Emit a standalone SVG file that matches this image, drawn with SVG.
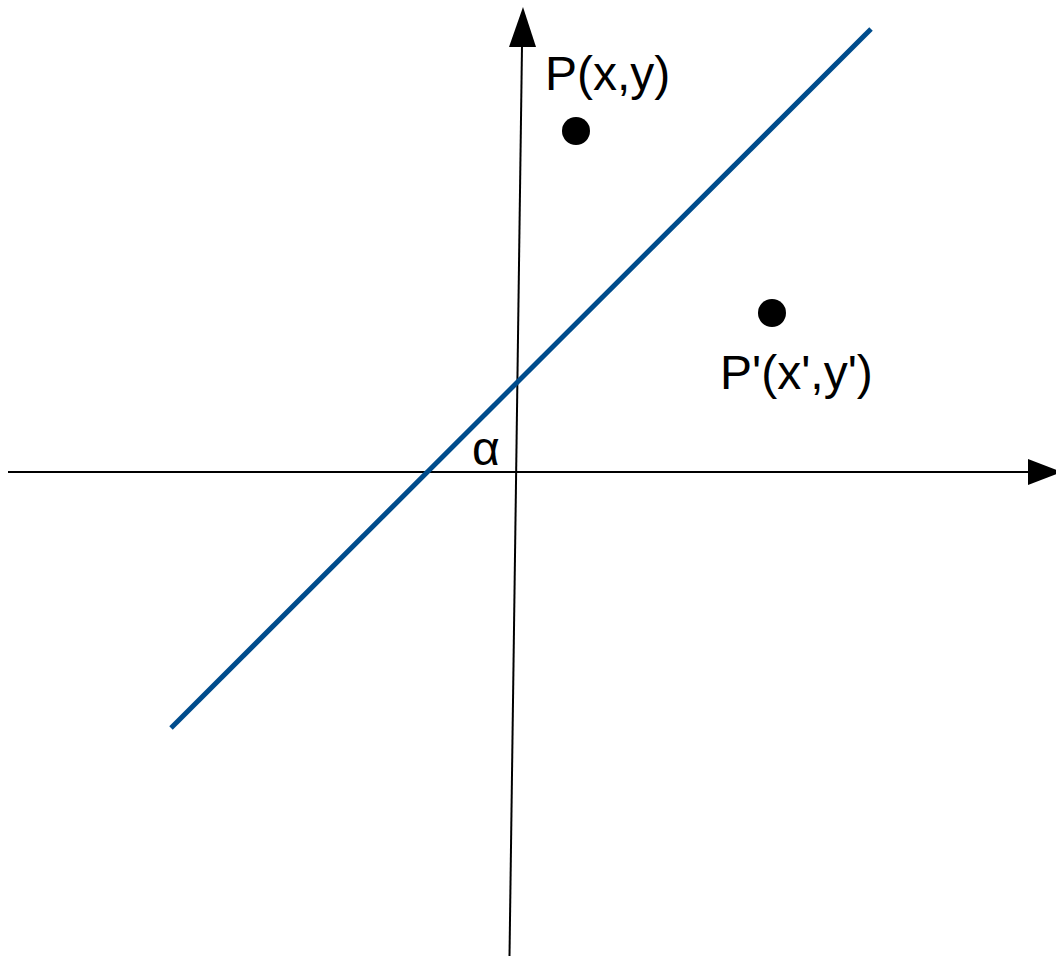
<svg xmlns="http://www.w3.org/2000/svg" width="1056" height="956" viewBox="0 0 1056 956">
<style>
.axis{stroke:#000;stroke-width:2;fill:none}
.lbl{font-family:"Liberation Sans",Arial,sans-serif;font-size:48px;fill:#000}
.pt{fill:#000}
</style>
<rect width="1056" height="956" fill="#fff"/>
<g id="connectors">
<line class="axis" x1="509.5" y1="956" x2="522" y2="46"/>
<polygon points="523,7 536,47 509,47" fill="#000"/>
<line class="axis" x1="8" y1="472" x2="1030" y2="472"/>
<polygon points="1062,472 1028,459 1028,485" fill="#000"/>
<line x1="171" y1="728" x2="871" y2="29" stroke="#004C8C" stroke-width="5"/>
</g>
<g id="P">
<circle class="pt" cx="576" cy="131" r="14"/>
<text class="lbl" x="545" y="90">P(x,y)</text>
</g>
<g id="Pprime">
<circle class="pt" cx="772" cy="313" r="14"/>
<text class="lbl" x="720" y="389">P'(x',y')</text>
</g>
<g id="alpha">
<text class="lbl" x="472" y="465">α</text>
</g>
</svg>
